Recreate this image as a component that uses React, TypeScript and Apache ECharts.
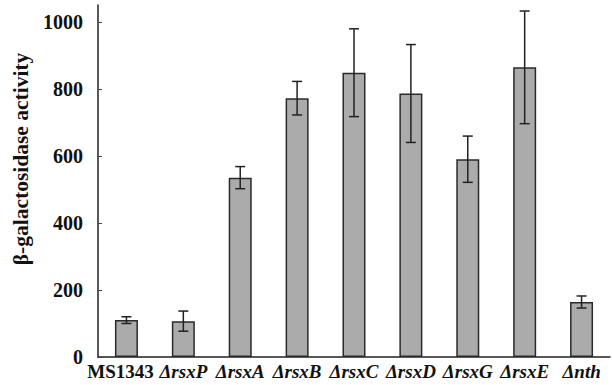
import React, { useEffect, useRef } from "react";
import * as echarts from "echarts";

const categories = ["MS1343", "ΔrsxP", "ΔrsxA", "ΔrsxB", "ΔrsxC", "ΔrsxD", "ΔrsxG", "ΔrsxE", "Δnth"];
const means = [110, 107, 535, 772, 848, 786, 590, 864, 164];
const errors = [10, 30, 33, 50, 131, 146, 69, 168, 18];
const yTicks = [0, 200, 400, 600, 800, 1000];

export default function App() {
  const ref = useRef<HTMLDivElement>(null);
  useEffect(() => {
    if (!ref.current) return;
    const chart = echarts.init(ref.current, null, { renderer: "svg" });
    const font = "'Liberation Serif', 'Times New Roman', serif";
    const errData = means.map((m, i) => [i, m - errors[i], m + errors[i]]);
    chart.setOption({
      animation: false,
      backgroundColor: "#fff",
      grid: { left: 98, right: 2, top: 5, bottom: 28, containLabel: false },
      xAxis: {
        type: "category",
        data: categories,
        axisLine: { lineStyle: { color: "#222", width: 1.5 } },
        axisTick: { show: false },
        axisLabel: {
          margin: 5,
          interval: 0,
          formatter: (v: string) => (v.startsWith("Δ") ? `{i|${v}}` : `{n|${v}}`),
          rich: {
            n: { fontFamily: font, fontWeight: "bold", fontSize: 19, color: "#111", padding: [0, 12, 0, 0] },
            i: { fontFamily: font, fontWeight: "bold", fontStyle: "italic", fontSize: 19, color: "#111" },
          },
        },
      },
      yAxis: {
        type: "value",
        min: 0,
        max: 1050,
        interval: 200,
        name: "β-galactosidase activity",
        nameLocation: "middle",
        nameRotate: 90,
        nameGap: 64,
        nameTextStyle: { fontFamily: font, fontWeight: "bold", fontSize: 21.5, color: "#111", padding: [0, 0, 0, 44] },
        axisLine: { show: true, lineStyle: { color: "#222", width: 1.5 } },
        axisTick: { show: true, inside: true, length: 4, customValues: yTicks, lineStyle: { color: "#444" } },
        splitLine: { show: false },
        axisLabel: {
          customValues: yTicks,
          margin: 15,
          fontFamily: font,
          fontWeight: "bold",
          fontSize: 20,
          color: "#111",
          formatter: (v: number) => String(v),
        },
      },
      series: [
        {
          type: "bar",
          data: means,
          barWidth: 23,
          itemStyle: { color: "#ababab", borderColor: "#2a2a2a", borderWidth: 1.5 },
        },
        {
          type: "custom",
          data: errData,
          z: 10,
          renderItem: (params: any, api: any) => {
            const i = api.value(0);
            const lo = api.coord([i, api.value(1)]);
            const hi = api.coord([i, api.value(2)]);
            const x = lo[0];
            const cw = 5;
            const style = { stroke: "#222", lineWidth: 1.5 };
            return {
              type: "group",
              children: [
                { type: "line", shape: { x1: x, y1: lo[1], x2: x, y2: hi[1] }, style },
                { type: "line", shape: { x1: x - cw, y1: lo[1], x2: x + cw, y2: lo[1] }, style },
                { type: "line", shape: { x1: x - cw, y1: hi[1], x2: x + cw, y2: hi[1] }, style },
              ],
            };
          },
        },
      ],
    });
    return () => chart.dispose();
  }, []);
  return <div ref={ref} style={{ width: 612, height: 385, position: "absolute", left: 0, top: 0 }} />;
}
